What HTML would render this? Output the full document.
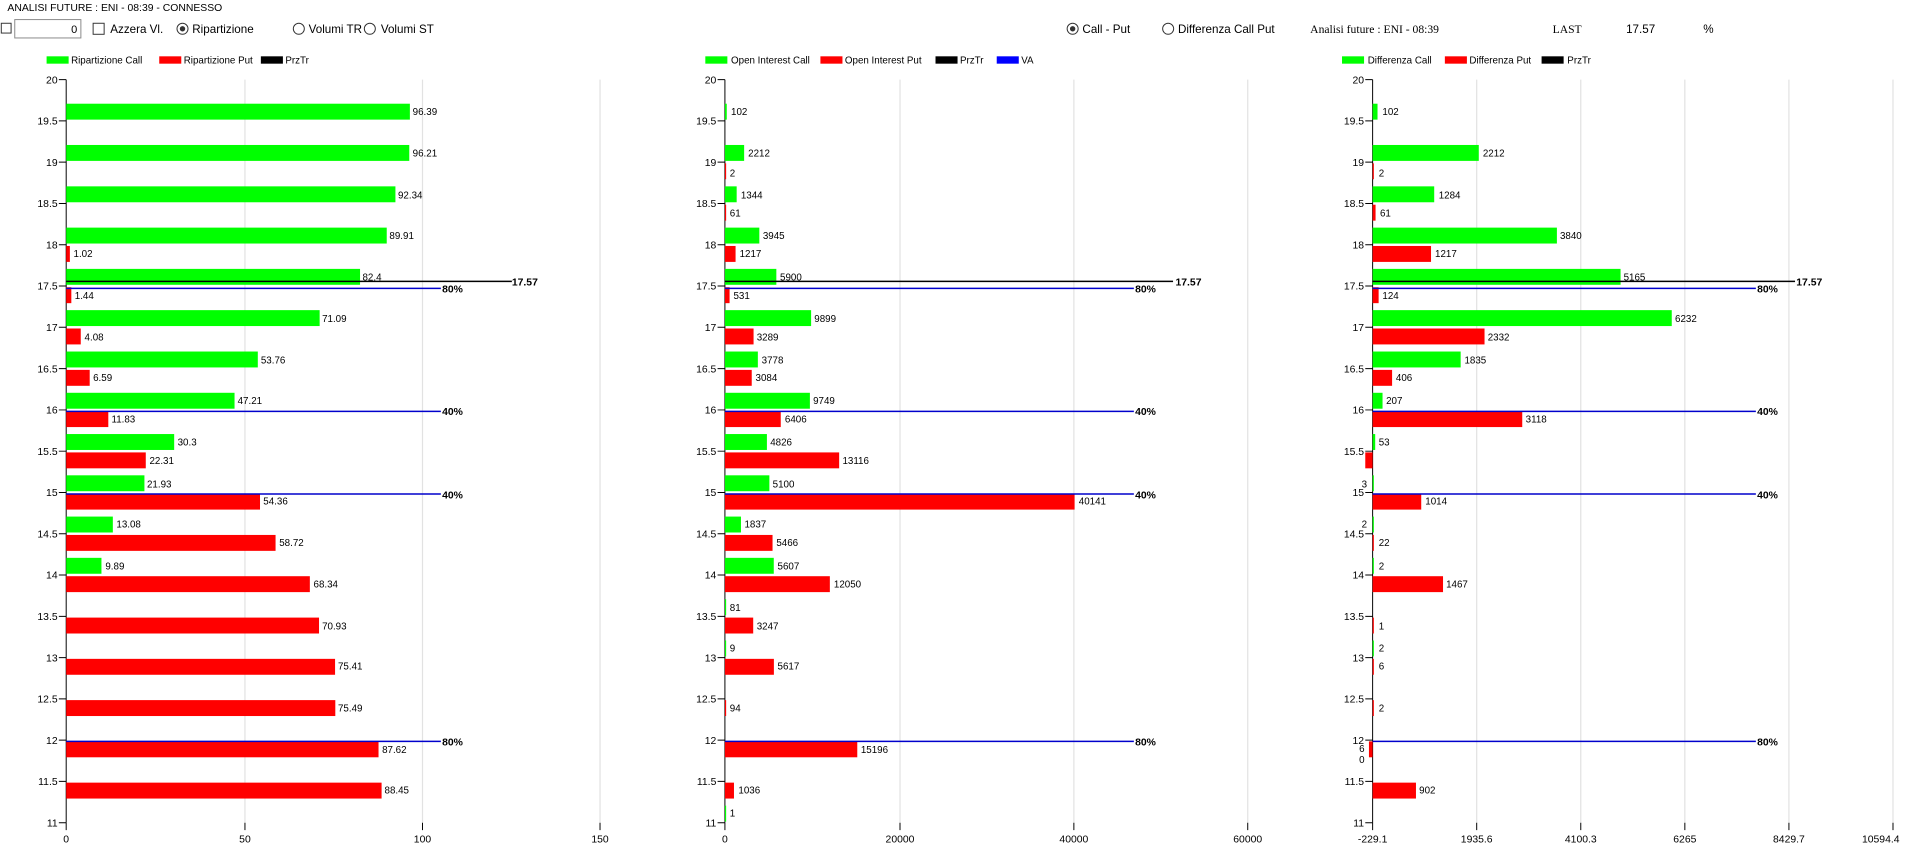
<!DOCTYPE html>
<html><head><meta charset="utf-8"><style>
html,body{margin:0;padding:0;background:#fff;overflow:hidden}
svg{display:block}
text{font-family:"Liberation Sans",sans-serif;fill:#000}
</style></head><body>
<svg width="1920" height="861" viewBox="0 0 1568 703.2" xmlns="http://www.w3.org/2000/svg">
<rect x="0" y="0" width="1568" height="703.2" fill="#fff"/>
<g font-size="8.5">
<text x="6" y="9">ANALISI FUTURE : ENI - 08:39 - CONNESSO</text>
<rect x="1" y="19" width="8" height="8" fill="#fff" stroke="#333" stroke-width="0.8"/>
<rect x="12" y="16" width="54" height="15" fill="#fff" stroke="#888" stroke-width="0.8"/>
<text x="63" y="27" text-anchor="end" font-size="9">0</text>
<rect x="76" y="19" width="9" height="9" fill="#fff" stroke="#333" stroke-width="0.8"/>
<text x="90" y="27" font-size="9.5">Azzera Vl.</text>
<circle cx="149" cy="23.5" r="4.5" fill="#fff" stroke="#333" stroke-width="0.8"/><circle cx="149" cy="23.5" r="2.2" fill="#333"/>
<text x="157" y="27" font-size="9.5">Ripartizione</text>
<circle cx="244" cy="23.5" r="4.5" fill="#fff" stroke="#333" stroke-width="0.8"/>
<text x="252" y="27" font-size="9.5">Volumi TR</text>
<circle cx="302" cy="23.5" r="4.5" fill="#fff" stroke="#333" stroke-width="0.8"/>
<text x="311" y="27" font-size="9.5">Volumi ST</text>
<circle cx="876" cy="23.5" r="4.5" fill="#fff" stroke="#333" stroke-width="0.8"/><circle cx="876" cy="23.5" r="2.2" fill="#333"/>
<text x="884" y="27" font-size="9.5">Call - Put</text>
<circle cx="954" cy="23.5" r="4.5" fill="#fff" stroke="#333" stroke-width="0.8"/>
<text x="962" y="27" font-size="9.5">Differenza Call Put</text>
<text x="1070" y="27" font-size="9.5" style="font-family:'Liberation Serif',serif">Analisi future : ENI - 08:39</text>
<text x="1268" y="27" font-size="9.5" style="font-family:'Liberation Serif',serif">LAST</text>
<text x="1328" y="27" font-size="9.5">17.57</text>
<text x="1391" y="27" font-size="9.5">%</text>
</g>
<!-- legends -->
<g font-size="8">
<rect x="38" y="46" width="18" height="6" fill="#00ff00"/><text x="58" y="52">Ripartizione Call</text>
<rect x="130" y="46" width="18" height="6" fill="#ff0000"/><text x="150" y="52">Ripartizione Put</text>
<rect x="213" y="46" width="18" height="6" fill="#000"/><text x="233" y="52">PrzTr</text>
<rect x="576" y="46" width="18" height="6" fill="#00ff00"/><text x="597" y="52">Open Interest Call</text>
<rect x="670" y="46" width="18" height="6" fill="#ff0000"/><text x="690" y="52">Open Interest Put</text>
<rect x="764" y="46" width="18" height="6" fill="#000"/><text x="784" y="52">PrzTr</text>
<rect x="814" y="46" width="18" height="6" fill="#0000ff"/><text x="834" y="52">VA</text>
<rect x="1096" y="46" width="18" height="6" fill="#00ff00"/><text x="1117" y="52">Differenza Call</text>
<rect x="1180" y="46" width="18" height="6" fill="#ff0000"/><text x="1200" y="52">Differenza Put</text>
<rect x="1259" y="46" width="18" height="6" fill="#000"/><text x="1280" y="52">PrzTr</text>
</g>
<!-- gridlines -->
<g stroke="#e2e2e2" stroke-width="1">
<line x1="200" y1="65" x2="200" y2="672"/><line x1="345" y1="65" x2="345" y2="672"/><line x1="490" y1="65" x2="490" y2="672"/>
<line x1="735" y1="65" x2="735" y2="672"/><line x1="877" y1="65" x2="877" y2="672"/><line x1="1019" y1="65" x2="1019" y2="672"/>
<line x1="1206" y1="65" x2="1206" y2="672"/><line x1="1291" y1="65" x2="1291" y2="672"/><line x1="1376" y1="65" x2="1376" y2="672"/><line x1="1461" y1="65" x2="1461" y2="672"/><line x1="1546" y1="65" x2="1546" y2="672"/>
</g>
<!-- axes -->
<g stroke="#000" stroke-width="0.8" fill="none">
<line x1="54" y1="65" x2="54" y2="672"/><line x1="592" y1="65" x2="592" y2="672"/><line x1="1121" y1="65" x2="1121" y2="672"/>
<path d="M48 65H54M48 98.7H54M48 132.4H54M48 166.2H54M48 199.9H54M48 233.6H54M48 267.3H54M48 301.1H54M48 334.8H54M48 368.5H54M48 402.2H54M48 435.9H54M48 469.6H54M48 503.4H54M48 537.1H54M48 570.8H54M48 604.5H54M48 638.2H54M48 672H54"/>
<path d="M586 65H592M586 98.7H592M586 132.4H592M586 166.2H592M586 199.9H592M586 233.6H592M586 267.3H592M586 301.1H592M586 334.8H592M586 368.5H592M586 402.2H592M586 435.9H592M586 469.6H592M586 503.4H592M586 537.1H592M586 570.8H592M586 604.5H592M586 638.2H592M586 672H592"/>
<path d="M1115 65H1121M1115 98.7H1121M1115 132.4H1121M1115 166.2H1121M1115 199.9H1121M1115 233.6H1121M1115 267.3H1121M1115 301.1H1121M1115 334.8H1121M1115 368.5H1121M1115 402.2H1121M1115 435.9H1121M1115 469.6H1121M1115 503.4H1121M1115 537.1H1121M1115 570.8H1121M1115 604.5H1121M1115 638.2H1121M1115 672H1121"/>
<path d="M54 672V678M200 672V678M345 672V678M490 672V678"/>
<path d="M592 672V678M735 672V678M877 672V678M1019 672V678"/>
<path d="M1121 672V678M1206 672V678M1291 672V678M1376 672V678M1461 672V678M1546 672V678"/>
</g>
<!-- y labels -->
<g font-size="8.5" text-anchor="end">
<g id="yl">
<text x="47" y="68">20</text><text x="47" y="101.7">19.5</text><text x="47" y="135.4">19</text><text x="47" y="169.2">18.5</text><text x="47" y="202.9">18</text><text x="47" y="236.6">17.5</text><text x="47" y="270.3">17</text><text x="47" y="304.1">16.5</text><text x="47" y="337.8">16</text><text x="47" y="371.5">15.5</text><text x="47" y="405.2">15</text><text x="47" y="438.9">14.5</text><text x="47" y="472.6">14</text><text x="47" y="506.4">13.5</text><text x="47" y="540.1">13</text><text x="47" y="573.8">12.5</text><text x="47" y="607.5">12</text><text x="47" y="641.2">11.5</text><text x="47" y="675">11</text>
</g>
<use href="#yl" x="538"/>
<use href="#yl" x="1067"/>
</g>
<!-- x labels -->
<g font-size="8.5" text-anchor="middle">
<text x="54" y="688">0</text><text x="200" y="688">50</text><text x="345" y="688">100</text><text x="490" y="688">150</text>
<text x="592" y="688">0</text><text x="735" y="688">20000</text><text x="877" y="688">40000</text><text x="1019" y="688">60000</text>
<text x="1121" y="688">-229.1</text><text x="1206" y="688">1935.6</text><text x="1291" y="688">4100.3</text><text x="1376" y="688">6265</text><text x="1461" y="688">8429.7</text><text x="1536" y="688">10594.4</text>
</g>
<!-- chart1 bars -->
<g fill="#00ff00">
<rect x="54" y="84.7" width="280.7" height="13"/><rect x="54" y="118.4" width="280.2" height="13"/><rect x="54" y="152.2" width="268.9" height="13"/><rect x="54" y="185.9" width="261.8" height="13"/><rect x="54" y="219.6" width="240" height="13"/><rect x="54" y="253.3" width="207" height="13"/><rect x="54" y="287.1" width="156.5" height="13"/><rect x="54" y="320.8" width="137.5" height="13"/><rect x="54" y="354.5" width="88.2" height="13"/><rect x="54" y="388.2" width="63.9" height="13"/><rect x="54" y="421.9" width="38.1" height="13"/><rect x="54" y="455.6" width="28.8" height="13"/>
</g>
<g fill="#ff0000">
<rect x="54" y="200.9" width="3" height="13"/><rect x="54" y="234.6" width="4.2" height="13"/><rect x="54" y="268.3" width="11.9" height="13"/><rect x="54" y="302.1" width="19.2" height="13"/><rect x="54" y="335.8" width="34.4" height="13"/><rect x="54" y="369.5" width="65" height="13"/><rect x="54" y="403.2" width="158.3" height="13"/><rect x="54" y="436.9" width="171" height="13"/><rect x="54" y="470.6" width="199" height="13"/><rect x="54" y="504.4" width="206.5" height="13"/><rect x="54" y="538.1" width="219.6" height="13"/><rect x="54" y="571.8" width="219.8" height="13"/><rect x="54" y="605.5" width="255.1" height="13"/><rect x="54" y="639.2" width="257.6" height="13"/>
</g>
<g font-size="8">
<text x="337" y="94">96.39</text><text x="337" y="128">96.21</text><text x="325" y="162">92.34</text><text x="318" y="195">89.91</text><text x="296" y="229">82.4</text><text x="263" y="263">71.09</text><text x="213" y="297">53.76</text><text x="194" y="330">47.21</text><text x="145" y="364">30.3</text><text x="120" y="398">21.93</text><text x="95" y="431">13.08</text><text x="86" y="465">9.89</text>
<text x="60" y="210">1.02</text><text x="61" y="244">1.44</text><text x="69" y="278">4.08</text><text x="76" y="311">6.59</text><text x="91" y="345">11.83</text><text x="122" y="379">22.31</text><text x="215" y="412">54.36</text><text x="228" y="446">58.72</text><text x="256" y="480">68.34</text><text x="263" y="514">70.93</text><text x="276" y="547">75.41</text><text x="276" y="581">75.49</text><text x="312" y="615">87.62</text><text x="314" y="648">88.45</text>
</g>
<!-- chart2 bars -->
<g fill="#00ff00">
<rect x="592" y="84.7" width="1.5" height="13"/><rect x="592" y="118.4" width="15.7" height="13"/><rect x="592" y="152.2" width="9.6" height="13"/><rect x="592" y="185.9" width="28.1" height="13"/><rect x="592" y="219.6" width="42" height="13"/><rect x="592" y="253.3" width="70.4" height="13"/><rect x="592" y="287.1" width="26.9" height="13"/><rect x="592" y="320.8" width="69.4" height="13"/><rect x="592" y="354.5" width="34.3" height="13"/><rect x="592" y="388.2" width="36.3" height="13"/><rect x="592" y="421.9" width="13.1" height="13"/><rect x="592" y="455.6" width="39.9" height="13"/><rect x="592" y="489.4" width="1" height="13"/><rect x="592" y="523.1" width="1" height="13"/><rect x="592" y="658" width="1" height="13"/>
</g>
<g fill="#ff0000">
<rect x="592" y="133.4" width="1" height="13"/><rect x="592" y="167.2" width="1" height="13"/><rect x="592" y="200.9" width="8.7" height="13"/><rect x="592" y="234.6" width="3.8" height="13"/><rect x="592" y="268.3" width="23.4" height="13"/><rect x="592" y="302.1" width="21.9" height="13"/><rect x="592" y="335.8" width="45.6" height="13"/><rect x="592" y="369.5" width="93.3" height="13"/><rect x="592" y="403.2" width="285.6" height="13"/><rect x="592" y="436.9" width="38.9" height="13"/><rect x="592" y="470.6" width="85.7" height="13"/><rect x="592" y="504.4" width="23.1" height="13"/><rect x="592" y="538.1" width="40" height="13"/><rect x="592" y="571.8" width="1" height="13"/><rect x="592" y="605.5" width="108.1" height="13"/><rect x="592" y="639.2" width="7.4" height="13"/>
</g>
<g font-size="8">
<text x="597" y="94">102</text><text x="611" y="128">2212</text><text x="605" y="162">1344</text><text x="623" y="195">3945</text><text x="637" y="229">5900</text><text x="665" y="263">9899</text><text x="622" y="297">3778</text><text x="664" y="330">9749</text><text x="629" y="364">4826</text><text x="631" y="398">5100</text><text x="608" y="431">1837</text><text x="635" y="465">5607</text><text x="596" y="499">81</text><text x="596" y="532">9</text><text x="596" y="667">1</text>
<text x="596" y="144">2</text><text x="596" y="177">61</text><text x="604" y="210">1217</text><text x="599" y="244">531</text><text x="618" y="278">3289</text><text x="617" y="311">3084</text><text x="641" y="345">6406</text><text x="688" y="379">13116</text><text x="881" y="412">40141</text><text x="634" y="446">5466</text><text x="681" y="480">12050</text><text x="618" y="514">3247</text><text x="635" y="547">5617</text><text x="596" y="581">94</text><text x="703" y="615">15196</text><text x="603" y="648">1036</text>
</g>
<!-- chart3 bars -->
<g fill="#00ff00">
<rect x="1121" y="84.7" width="4" height="13"/><rect x="1121" y="118.4" width="86.7" height="13"/><rect x="1121" y="152.2" width="50.3" height="13"/><rect x="1121" y="185.9" width="150.5" height="13"/><rect x="1121" y="219.6" width="202.5" height="13"/><rect x="1121" y="253.3" width="244.3" height="13"/><rect x="1121" y="287.1" width="71.9" height="13"/><rect x="1121" y="320.8" width="8.1" height="13"/><rect x="1121" y="354.5" width="2.1" height="13"/><rect x="1121" y="388.2" width="1" height="13"/><rect x="1121" y="421.9" width="1" height="13"/><rect x="1121" y="455.6" width="1" height="13"/><rect x="1121" y="523.1" width="1" height="13"/>
</g>
<g fill="#ff0000">
<rect x="1121" y="133.4" width="1" height="13"/><rect x="1121" y="167.2" width="2.4" height="13"/><rect x="1121" y="200.9" width="47.7" height="13"/><rect x="1121" y="234.6" width="4.9" height="13"/><rect x="1121" y="268.3" width="91.4" height="13"/><rect x="1121" y="302.1" width="15.9" height="13"/><rect x="1121" y="335.8" width="122.2" height="13"/><rect x="1115" y="369.5" width="6" height="13"/><rect x="1121" y="403.2" width="39.7" height="13"/><rect x="1121" y="436.9" width="1" height="13"/><rect x="1121" y="470.6" width="57.5" height="13"/><rect x="1121" y="504.4" width="1" height="13"/><rect x="1121" y="538.1" width="1" height="13"/><rect x="1121" y="571.8" width="1" height="13"/><rect x="1118" y="605.5" width="3" height="13"/><rect x="1121" y="639.2" width="35.4" height="13"/>
</g>
<g font-size="8">
<text x="1129" y="94">102</text><text x="1211" y="128">2212</text><text x="1175" y="162">1284</text><text x="1274" y="195">3840</text><text x="1326" y="229">5165</text><text x="1368" y="263">6232</text><text x="1196" y="297">1835</text><text x="1132" y="330">207</text><text x="1126" y="364">53</text><text x="1112" y="398">3</text><text x="1112" y="431">2</text><text x="1126" y="465">2</text><text x="1126" y="532">2</text><text x="1110" y="614">6</text>
<text x="1126" y="144">2</text><text x="1127" y="177">61</text><text x="1172" y="210">1217</text><text x="1129" y="244">124</text><text x="1215" y="278">2332</text><text x="1140" y="311">406</text><text x="1246" y="345">3118</text><text x="1164" y="412">1014</text><text x="1126" y="446">22</text><text x="1181" y="480">1467</text><text x="1126" y="514">1</text><text x="1126" y="547">6</text><text x="1126" y="581">2</text><text x="1110" y="623">0</text><text x="1159" y="648">902</text>
</g>
<!-- PrzTr and VA lines -->
<g stroke-width="1.2">
<line x1="54" y1="229.8" x2="418" y2="229.8" stroke="#000"/>
<line x1="592" y1="229.8" x2="958" y2="229.8" stroke="#000"/>
<line x1="1121" y1="229.8" x2="1466" y2="229.8" stroke="#000"/>
<g stroke="#0000cc">
<line x1="54" y1="235.5" x2="360" y2="235.5"/><line x1="54" y1="336" x2="360" y2="336"/><line x1="54" y1="403.5" x2="360" y2="403.5"/><line x1="54" y1="605.5" x2="360" y2="605.5"/>
<line x1="592" y1="235.5" x2="926" y2="235.5"/><line x1="592" y1="336" x2="926" y2="336"/><line x1="592" y1="403.5" x2="926" y2="403.5"/><line x1="592" y1="605.5" x2="926" y2="605.5"/>
<line x1="1121" y1="235.5" x2="1434" y2="235.5"/><line x1="1121" y1="336" x2="1434" y2="336"/><line x1="1121" y1="403.5" x2="1434" y2="403.5"/><line x1="1121" y1="605.5" x2="1434" y2="605.5"/>
</g>
</g>
<g font-size="8.5" font-weight="bold">
<text x="418" y="233">17.57</text><text x="960" y="233">17.57</text><text x="1467" y="233">17.57</text>
<text x="361" y="239">80%</text><text x="361" y="339">40%</text><text x="361" y="407">40%</text><text x="361" y="609">80%</text>
<text x="927" y="239">80%</text><text x="927" y="339">40%</text><text x="927" y="407">40%</text><text x="927" y="609">80%</text>
<text x="1435" y="239">80%</text><text x="1435" y="339">40%</text><text x="1435" y="407">40%</text><text x="1435" y="609">80%</text>
</g>
</svg>
</body></html>
